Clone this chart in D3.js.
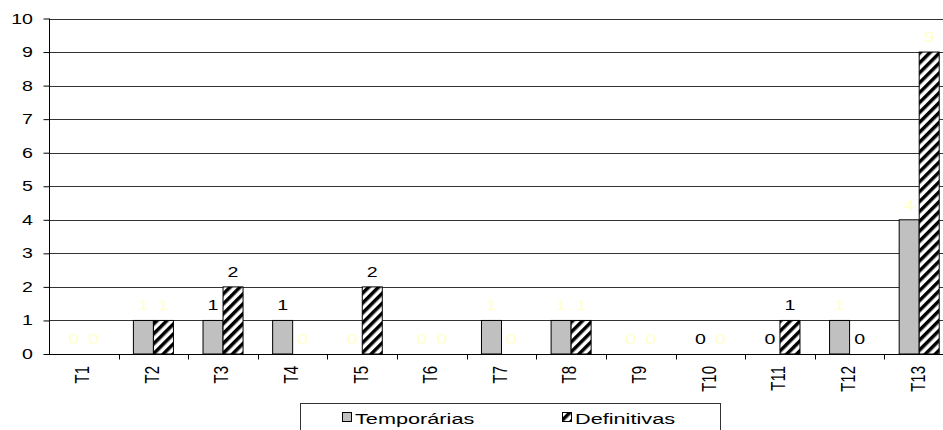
<!DOCTYPE html>
<html>
<head>
<meta charset="utf-8">
<script src="https://cdn.jsdelivr.net/npm/d3@7"></script>
<style>
  html, body { margin: 0; padding: 0; background: #fff; }
  svg { display: block; font-family: "Liberation Sans", Arial, sans-serif; }
</style>
</head>
<body>
<svg id="chart" width="943" height="430"></svg>
<script>
const categories = ["T1","T2","T3","T4","T5","T6","T7","T8","T9","T10","T11","T12","T13"];
const temporarias = [0,1,1,1,0,0,1,1,0,0,0,1,4];
const definitivas = [0,1,2,0,2,0,0,1,0,0,1,0,9];
const seriesNames = ["Temporárias","Definitivas"];
const yTicks = [0,1,2,3,4,5,6,7,8,9,10];
// which data labels are drawn dark (others are pale yellow)
const tempLabelDark = [false,false,true,true,false,false,false,false,false,true,true,false,false];
const defLabelDark  = [false,false,true,false,true,false,false,false,false,false,true,true,false];

const SX = 1.4; // horizontal stretch of the original picture's text

const svg = d3.select("#chart");
const defs = svg.append("defs");
const pat = defs.append("pattern")
  .attr("id","hatch").attr("patternUnits","userSpaceOnUse")
  .attr("width",7).attr("height",7)
  .attr("patternTransform","rotate(45)");
pat.append("rect").attr("width",7).attr("height",7).attr("fill","#fff");
pat.append("rect").attr("width",3.5).attr("height",7).attr("fill","#000");

const plot = {left:49, right:954, top:18.5, bottom:354};
const x = d3.scaleBand().domain(categories).range([plot.left, plot.right]).padding(0);
const y = d3.scaleLinear().domain([0,10]).range([plot.bottom, plot.top]);
const bw = x.bandwidth() * 0.2875;

// gridlines
svg.append("g").selectAll("line").data(yTicks.filter(d=>d>0)).join("line")
  .attr("x1", plot.left).attr("x2", plot.right)
  .attr("y1", d=>Math.round(y(d))+0.5).attr("y2", d=>Math.round(y(d))+0.5)
  .attr("stroke","#333").attr("stroke-width",1);

// y axis (line + ticks via d3 axis, labels drawn stretched)
const yAxis = svg.append("g").attr("transform",`translate(${plot.left+0.5},0)`)
  .call(d3.axisLeft(y).tickValues(yTicks).tickSize(6).tickFormat(""));
yAxis.select(".domain").attr("stroke","#000").attr("d",`M0,${plot.top}V${plot.bottom}`);
yAxis.selectAll(".tick line").attr("stroke","#000");
svg.append("g").selectAll("text").data(yTicks).join("text")
  .attr("transform", d=>`translate(33,${y(d)}) scale(${SX},1)`)
  .attr("text-anchor","end").attr("dy","0.36em")
  .attr("font-size",14).attr("fill","#000").text(d=>d);

// x axis
const xAxis = svg.append("g").attr("transform",`translate(0,${Math.round(plot.bottom)+0.5})`)
  .call(d3.axisBottom(x).tickSize(0).tickFormat(""));
xAxis.select(".domain").attr("stroke","#000").attr("d",`M${plot.left},0H${plot.right}`);
xAxis.selectAll(".tick").remove();
xAxis.selectAll(".bt").data(categories.slice(1)).join("line")
  .attr("x1",d=>Math.round(x(d))+0.5).attr("x2",d=>Math.round(x(d))+0.5)
  .attr("y1",0).attr("y2",5).attr("stroke","#000");
svg.append("g").selectAll("text").data(categories).join("text")
  .attr("transform", d=>`translate(${x(d)+x.bandwidth()/2-2},366) scale(${SX},1) rotate(-90)`)
  .attr("text-anchor","end").attr("dy","0.35em")
  .attr("font-size",15).attr("fill","#000").text(d=>d);

// bars
const rows = categories.map((c,i)=>({c, t:temporarias[i], d:definitivas[i], i}));
const g = svg.append("g");
g.selectAll(".bt").data(rows).join("rect")
  .attr("x", r=>x(r.c)+x.bandwidth()/2-bw).attr("width",bw)
  .attr("y", r=>y(r.t)).attr("height", r=>y(0)-y(r.t))
  .attr("fill","#c0c0c0").attr("stroke", r=>r.t>0?"#000":"none").attr("stroke-width",1);
g.selectAll(".bd").data(rows).join("rect")
  .attr("x", r=>x(r.c)+x.bandwidth()/2).attr("width",bw)
  .attr("y", r=>y(r.d)).attr("height", r=>y(0)-y(r.d))
  .attr("fill","url(#hatch)").attr("stroke", r=>r.d>0?"#000":"none").attr("stroke-width",1);

// data labels
const lab = svg.append("g").attr("font-size",14).attr("text-anchor","middle");
lab.selectAll(".lt").data(rows).join("text")
  .attr("transform", r=>`translate(${x(r.c)+x.bandwidth()/2-bw/2},${y(r.t)-10}) scale(${SX},1)`)
  .attr("fill", r=>tempLabelDark[r.i]?"#000":"#ffffcc").text(r=>r.t);
lab.selectAll(".ld").data(rows).join("text")
  .attr("transform", r=>`translate(${x(r.c)+x.bandwidth()/2+bw/2},${y(r.d)-10}) scale(${SX},1)`)
  .attr("fill", r=>defLabelDark[r.i]?"#000":"#ffffcc").text(r=>r.d);

// legend
const lg = svg.append("g");
lg.append("rect").attr("x",300.5).attr("y",403.5).attr("width",420).attr("height",40)
  .attr("fill","#fff").attr("stroke","#333");
const items = [{name:seriesNames[0], fill:"#c0c0c0", x:342},{name:seriesNames[1], fill:"url(#hatch)", x:562}];
const li = lg.selectAll(".li").data(items).join("g");
li.append("rect").attr("x",d=>d.x+0.5).attr("y",412.5).attr("width",9).attr("height",9)
  .attr("fill",d=>d.fill).attr("stroke","#000");
li.append("text").attr("transform",d=>`translate(${d.x+13},424) scale(${SX},1)`)
  .attr("font-size",15.5).attr("fill","#000").text(d=>d.name);
</script>
</body>
</html>
